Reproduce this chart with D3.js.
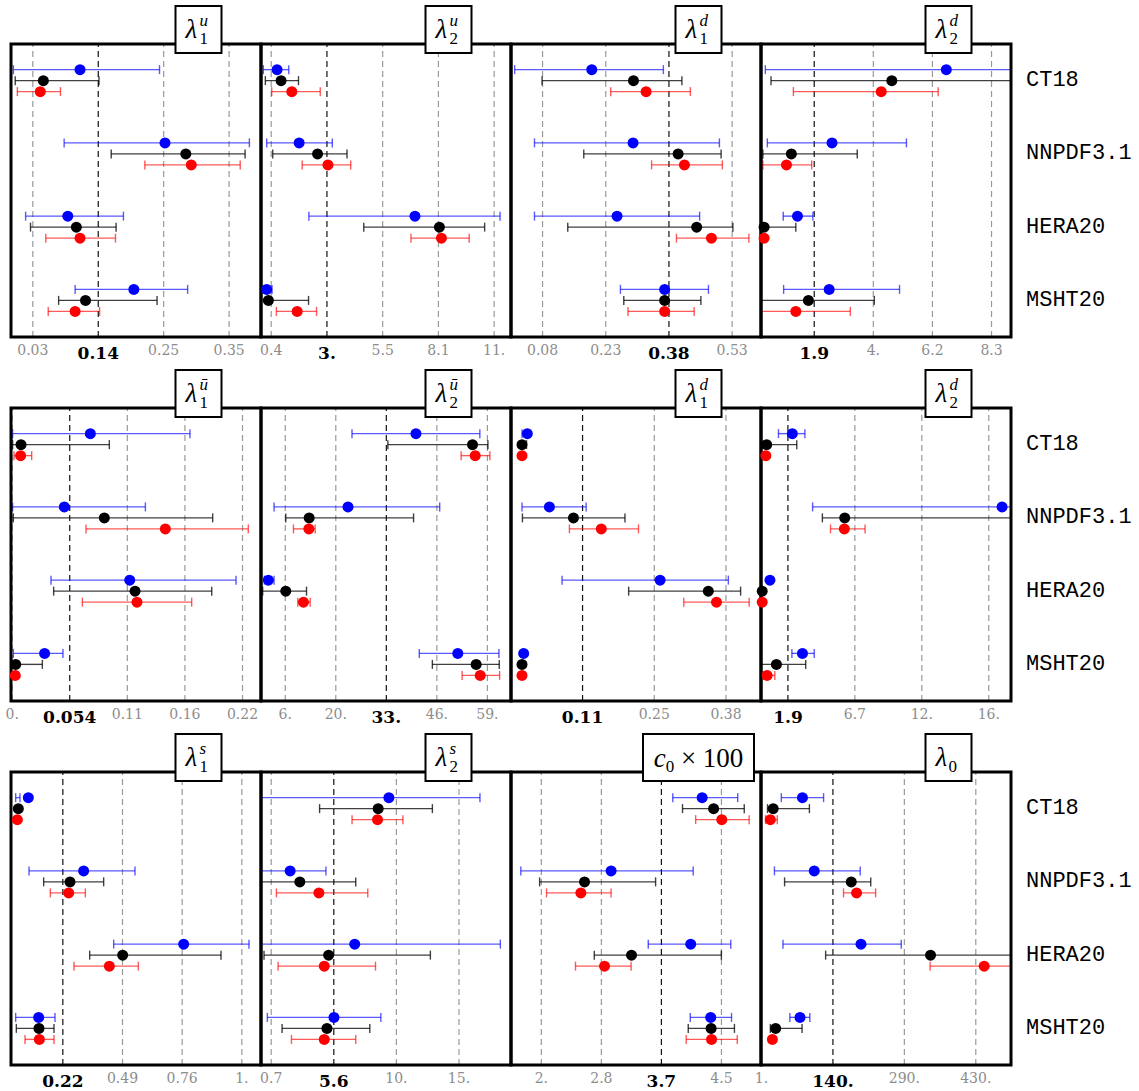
<!DOCTYPE html>
<html>
<head>
<meta charset="utf-8">
<script src="https://cdn.jsdelivr.net/npm/d3@7"></script>
<style>
body { margin: 0; background: #fff; }
</style>
</head>
<body>
<div id="chart"></div>
<script>
var pdfSets = ["CT18", "NNPDF3.1", "HERA20", "MSHT20"];

// every row is one PDF set: [centre, low, high] for the blue, black and red fits
var lambda1u = [
  [[0.108, -0.001, 0.238], [0.048, 0.002, 0.139], [0.043, 0.0055, 0.076]],
  [[0.247, 0.082, 0.385], [0.281, 0.159, 0.378], [0.290, 0.214, 0.370]],
  [[0.088, 0.019, 0.179], [0.102, 0.027, 0.167], [0.108, 0.052, 0.166]],
  [[0.196, 0.100, 0.284], [0.117, 0.073, 0.234], [0.100, 0.056, 0.140]]
];
var lambda2u = [
  [[0.697, 0.056, 1.243], [0.884, 0.150, 1.696], [1.384, 0.447, 2.711]],
  [[1.727, 0.213, 3.273], [2.586, 0.494, 3.960], [3.070, 1.868, 4.132]],
  [[7.130, 2.180, 11.10], [8.270, 4.741, 10.38], [8.363, 6.943, 9.660]],
  [[0.213, 0.056, 0.462], [0.291, -0.05, 2.165], [1.634, 0.665, 2.539]]
];
var lambda1d = [
  [[0.198, 0.015, 0.368], [0.297, 0.080, 0.412], [0.327, 0.243, 0.432]],
  [[0.296, 0.062, 0.501], [0.403, 0.179, 0.505], [0.418, 0.340, 0.508]],
  [[0.258, 0.062, 0.454], [0.447, 0.141, 0.533], [0.482, 0.399, 0.571]],
  [[0.371, 0.266, 0.475], [0.371, 0.274, 0.457], [0.371, 0.284, 0.441]]
];
var lambda2d = [
  [[6.679, 0.156, 9.5], [4.715, 0.361, 9.3], [4.333, 1.167, 6.386]],
  [[2.560, 0.229, 5.242], [1.094, 0.068, 3.469], [0.918, 0.068, 1.827]],
  [[1.314, 0.801, 1.871], [0.112, -0.05, 1.255], [0.112, 0.068, 0.170]],
  [[2.457, 0.815, 4.993], [1.709, -0.05, 4.084], [1.255, -0.05, 3.219]]
];
var lambda1ubar = [
  [[0.0738, 0.0009, 0.1672], [0.0088, 0.0009, 0.0916], [0.0084, 0.0022, 0.0188]],
  [[0.0494, 0.0009, 0.1254], [0.0869, 0.0016, 0.1885], [0.1441, 0.0697, 0.2219]],
  [[0.1107, 0.0369, 0.2104], [0.1157, 0.0394, 0.1876], [0.1175, 0.0663, 0.1688]],
  [[0.0309, 0.0016, 0.0481], [0.0038, 0.0009, 0.0288], [0.0034, 0.0022, 0.0047]]
];
var lambda2ubar = [
  [[40.75, 24.30, 57.19], [55.30, 33.52, 59.26], [55.99, 52.37, 59.77]],
  [[23.27, 4.25, 46.86], [13.28, 7.26, 40.14], [13.20, 9.24, 14.83]],
  [[2.78, 1.75, 4.25], [7.26, 1.32, 12.60], [11.82, 10.36, 13.54]],
  [[51.51, 41.61, 62.10], [56.24, 44.97, 62.18], [57.28, 52.63, 62.27]]
];
var lambda1dbar = [
  [[0.0069, -0.0031, 0.0085], [-0.0031, -0.0054, 0.0054], [-0.0031, -0.0046, -0.0015]],
  [[0.0485, -0.0031, 0.1177], [0.0938, -0.0023, 0.1908], [0.1462, 0.0862, 0.2162]],
  [[0.2569, 0.0723, 0.3854], [0.3477, 0.1977, 0.4085], [0.3631, 0.3015, 0.4246]],
  [[0.0000, -0.0015, 0.0015], [-0.0031, -0.0046, -0.0015], [-0.0031, -0.0046, -0.0015]]
];
var lambda2dbar = [
  [[2.250, 1.259, 3.153], [0.414, 0.151, 2.570], [0.355, 0.239, 0.472]],
  [[17.29, 3.707, 19.0], [6.009, 4.406, 19.5], [5.980, 4.989, 7.467]],
  [[0.647, 0.559, 0.734], [0.093, 0.035, 0.151], [0.093, 0.035, 0.151]],
  [[2.978, 2.221, 3.823], [1.113, -0.05, 3.212], [0.443, 0.151, 0.997]]
];
var lambda1s = [
  [[0.0661, 0.0088, 0.0284], [0.0209, 0.018, 0.024], [0.0164, 0.013, 0.019]],
  [[0.3165, 0.0692, 0.5488], [0.2547, 0.1355, 0.4070], [0.2487, 0.1657, 0.3241]],
  [[0.7691, 0.4523, 1.0647], [0.4930, 0.3437, 0.9380], [0.4327, 0.2728, 0.5639]],
  [[0.1129, 0.0088, 0.1868], [0.1144, 0.0118, 0.1823], [0.1159, 0.0511, 0.1823]]
];
var lambda2s = [
  [[9.950, -0.5, 17.08], [9.111, 4.526, 13.356], [9.059, 7.067, 11.050]],
  [[2.220, -0.5, 5.024], [2.980, -0.5, 7.356], [4.473, 1.145, 8.299]],
  [[7.277, -0.5, 18.675], [5.233, 0.176, 13.199], [4.892, 1.276, 8.902]],
  [[5.652, 0.438, 9.321], [5.102, 1.591, 8.456], [4.892, 2.325, 7.356]]
];
var c0x100 = [
  [[4.234, 3.818, 4.737], [4.396, 3.956, 4.830], [4.512, 4.142, 4.899]],
  [[2.945, 1.667, 4.107], [2.569, 1.933, 3.575], [2.517, 2.031, 2.945]],
  [[4.072, 3.471, 4.639], [3.234, 2.707, 4.506], [2.852, 2.441, 3.228]],
  [[4.355, 4.066, 4.650], [4.361, 4.037, 4.691], [4.367, 4.008, 4.731]]
];
var lambda0 = [
  [[84.0, 41.7, 126.3], [25.4, 14.0, 97.9], [19.7, 10.0, 33.6]],
  [[107.6, 27.9, 199.6], [181.7, 48.2, 220.7], [192.3, 166.2, 230.5]],
  [[201.2, 45.0, 281.8], [340.4, 130.4, 520], [447.8, 339.6, 540]],
  [[79.1, 58.8, 98.7], [30.3, 19.7, 83.2], [23.8, 20.5, 27.0]]
];

var titleSup = ["u", "u", "d", "d", "ū", "ū", "d", "d", "s", "s", "", ""];
var titleSub = ["1", "2", "1", "2", "1", "2", "1", "2", "1", "2", "0", "0"];

var tickValues = [
  [0.03, 0.137, 0.244, 0.351], [0.4, 3.0, 5.6, 8.2, 10.8], [0.08, 0.23, 0.38, 0.53], [1.9, 4.03, 6.16, 8.29],
  [0, 0.054, 0.108, 0.162, 0.216], [7, 20, 33, 46, 59], [0.11, 0.245, 0.38], [1.9, 6.7, 11.5, 16.3],
  [0.22, 0.49, 0.76, 1.03], [0.7, 5.6, 10.5, 15.4], [1.95, 2.8, 3.65, 4.5], [1, 144, 287, 430]
];
var tickLabels = [
  ["0.03", "0.14", "0.25", "0.35"], ["0.4", "3.", "5.5", "8.1", "11."], ["0.08", "0.23", "0.38", "0.53"], ["1.9", "4.", "6.2", "8.3"],
  ["0.", "0.054", "0.11", "0.16", "0.22"], ["6.", "20.", "33.", "46.", "59."], ["0.11", "0.25", "0.38"], ["1.9", "6.7", "12.", "16."],
  ["0.22", "0.49", "0.76", "1."], ["0.7", "5.6", "10.", "15."], ["2.", "2.8", "3.7", "4.5"], ["1.", "140.", "290.", "430."]
];
var boldTick = [1, 1, 2, 0, 1, 2, 0, 0, 0, 1, 2, 1];
var domains = [
  [-0.0049, 0.404], [-0.053, 11.61], [0.0063, 0.5997], [0, 9.01],
  [-0.0006, 0.2338], [0.89, 65.2], [-0.0238, 0.4469], [0.006, 17.93],
  [-0.0123, 1.119], [-0.06, 19.51], [1.528, 5.067], [1, 501.5]
];
var panelData = [lambda1u, lambda2u, lambda1d, lambda2d, lambda1ubar, lambda2ubar,
                 lambda1dbar, lambda2dbar, lambda1s, lambda2s, c0x100, lambda0];

var colors = ["#0000ff", "#000000", "#ff0000"];
var offsets = [-11, 0, 11];
var panelW = 250, panelH = 293, left = 11;
var rowTop = [44, 408, 772];

var svg = d3.select("#chart").append("svg")
    .attr("width", 1139).attr("height", 1091)
    .style("font-family", "'DejaVu Serif', serif");

panelData.forEach(function(data, k) {
    var col = k % 4, row = Math.floor(k / 4);
    var x0 = left + col * panelW, y0 = rowTop[row];

    var x = d3.scaleLinear().domain(domains[k]).range([x0, x0 + panelW]);
    var y = d3.scalePoint().domain(pdfSets).range([y0, y0 + panelH]).padding(0.5);

    svg.append("clipPath").attr("id", "clip" + k)
        .append("rect").attr("x", x0).attr("y", y0).attr("width", panelW).attr("height", panelH);

    var g = svg.append("g");

    // grid + tick labels
    var axis = d3.axisBottom(x)
        .tickValues(tickValues[k])
        .tickSize(-panelH)
        .tickPadding(8)
        .tickFormat(function(d, i) { return tickLabels[k][i]; });
    var ax = g.append("g")
        .attr("transform", "translate(0," + (y0 + panelH) + ")")
        .call(axis);
    ax.select(".domain").remove();
    ax.selectAll(".tick line")
        .attr("stroke", function(d, i) { return i === boldTick[k] ? "#111" : "#999"; })
        .attr("stroke-width", 1.2)
        .attr("stroke-dasharray", "6,4");
    ax.selectAll(".tick text")
        .attr("font-family", "'DejaVu Serif', serif")
        .attr("font-size", function(d, i) { return i === boldTick[k] ? 17 : 14; })
        .attr("font-weight", function(d, i) { return i === boldTick[k] ? "bold" : "normal"; })
        .attr("fill", function(d, i) { return i === boldTick[k] ? "#000" : "#8c8c8c"; })
        .attr("y", function(d, i) { return i === boldTick[k] ? 10 : 8; });

    // error bars
    var bars = g.append("g").attr("clip-path", "url(#clip" + k + ")");
    data.forEach(function(setRow, si) {
        setRow.forEach(function(v, j) {
            var yy = y(pdfSets[si]) + offsets[j];
            var b = bars.append("g")
                .attr("stroke", colors[j])
                .attr("stroke-opacity", j === 1 ? 0.75 : 0.65)
                .attr("stroke-width", 1.4);
            b.append("line").attr("x1", x(v[1])).attr("x2", x(v[2])).attr("y1", yy).attr("y2", yy);
            b.append("line").attr("x1", x(v[1])).attr("x2", x(v[1])).attr("y1", yy - 4.5).attr("y2", yy + 4.5);
            b.append("line").attr("x1", x(v[2])).attr("x2", x(v[2])).attr("y1", yy - 4.5).attr("y2", yy + 4.5);
        });
    });

    // frame
    g.append("rect")
        .attr("x", x0).attr("y", y0).attr("width", panelW).attr("height", panelH)
        .attr("fill", "none").attr("stroke", "#000").attr("stroke-width", 3);

    // central values
    data.forEach(function(setRow, si) {
        setRow.forEach(function(v, j) {
            g.append("circle")
                .attr("cx", x(v[0]))
                .attr("cy", y(pdfSets[si]) + offsets[j])
                .attr("r", 5.5)
                .attr("fill", colors[j]);
        });
    });

    // title box
    var cx = x0 + panelW * 0.75, cy = y0 - 14.5;
    var boxW = k === 10 ? 111 : 46;
    g.append("rect")
        .attr("x", cx - boxW / 2).attr("y", y0 - 38)
        .attr("width", boxW).attr("height", 47)
        .attr("fill", "#fff").attr("stroke", "#000").attr("stroke-width", 2);

    if (k === 10) {
        var t = g.append("text")
            .attr("x", cx).attr("y", cy + 9)
            .attr("text-anchor", "middle")
            .attr("font-family", "'Liberation Serif', serif")
            .attr("font-size", 27);
        t.append("tspan").attr("font-style", "italic").text("c");
        t.append("tspan").attr("font-size", 17).attr("dy", 5).text(titleSub[k]);
        t.append("tspan").attr("dy", -5).text(" × 100");
    } else {
        g.append("text")
            .attr("x", cx - 13).attr("y", cy + 8.5)
            .attr("font-family", "'Liberation Serif', serif")
            .attr("font-style", "italic")
            .attr("font-size", 27)
            .text("λ");
        g.append("text")
            .attr("x", cx + 1).attr("y", cy - 4)
            .attr("font-family", "'Liberation Serif', serif")
            .attr("font-style", "italic")
            .attr("font-size", 17)
            .text(titleSup[k]);
        g.append("text")
            .attr("x", titleSup[k] ? cx + 1 : cx + 0).attr("y", cy + 14)
            .attr("font-family", "'Liberation Serif', serif")
            .attr("font-size", 17)
            .text(titleSub[k]);
    }

    // set names on the right
    if (col === 3) {
        pdfSets.forEach(function(name) {
            svg.append("text")
                .attr("x", 1026)
                .attr("y", y(name))
                .attr("dominant-baseline", "central")
                .attr("font-family", "'Liberation Mono', monospace")
                .attr("font-size", 22)
                .text(name);
        });
    }
});
</script>
</body>
</html>
